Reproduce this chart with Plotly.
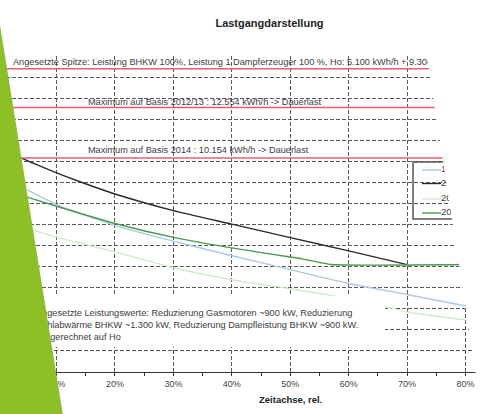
import plotly.graph_objects as go

# ---------------- data ----------------
title_text = "Lastgangdarstellung"
x_axis_title = "Zeitachse, rel."
tick_values = [0.1, 0.2, 0.3, 0.4, 0.5, 0.6, 0.7, 0.8]
tick_labels = ["10%", "20%", "30%", "40%", "50%", "60%", "70%", "80%"]

series_names = ["12/13", "2014", "2013", "2015"]

blue_x = [0.05, 0.10, 0.20, 0.30, 0.40, 0.50, 0.60, 0.70, 0.80]
blue_y = [8640, 7950, 6950, 6210, 5520, 4860, 4200, 3680, 3130]

black_x = [0.04, 0.06, 0.10, 0.14, 0.20, 0.30, 0.40, 0.50, 0.60, 0.70]
black_y = [10154, 9910, 9450, 9030, 8450, 7660, 7020, 6380, 5750, 5100]

faint_x = [0.06, 0.10, 0.20, 0.30, 0.40, 0.50, 0.62, 0.70, 0.80]
faint_y = [6740, 6400, 5700, 4950, 4380, 3950, 3400, 2850, 2470]

green_x = [0.05, 0.10, 0.20, 0.30, 0.40, 0.50, 0.52, 0.55, 0.57, 0.80]
green_y = [8300, 7870, 7050, 6390, 5890, 5460, 5370, 5200, 5100, 5100]

ref_levels = [14400, 12554, 10154]
ref_labels = [
    "Angesetzte Spitze: Leistung BHKW 100%, Leistung 1 Dampferzeuger 100 %, Ho: 5.100 kWh/h + 9.300 kWh/h",
    "Maximum auf Basis 2012/13 : 12.554 kWh/h -> Dauerlast",
    "Maximum auf Basis 2014 : 10.154 kWh/h -> Dauerlast",
]
note_text = ("Angesetzte Leistungswerte: Reduzierung Gasmotoren ~900 kW, Reduzierung<br>"
             "Kühlabwärme BHKW ~1.300 kW, Reduzierung Dampfleistung BHKW ~900 kW.<br>"
             "Umgerechnet auf Ho")

# ---------------- layout geometry ----------------
W, H = 484, 414
PT, PB = 56, 372           # plot top / bottom in px
X0, X1 = 0.0032, 0.8316    # x range
Y0, Y1 = 0, 15000


def dx(px):
    return 0.2 + (px - 115) / 584.2


def dy(py):
    return (PB - py) * (Y1 - Y0) / (PB - PT)


def paper_x(px):
    return px / W


def paper_y(py):
    return (PB - py) / (PB - PT)


FONT = "Arial, Liberation Sans, sans-serif"
colors = ["#a9c8ea", "#2b2b2b", "#d3eccc", "#4a9a50"]
series = [(blue_x, blue_y), (black_x, black_y), (faint_x, faint_y), (green_x, green_y)]

fig = go.Figure()

for (xs, ys), c, n in zip(series, colors, series_names):
    fig.add_trace(go.Scatter(x=xs, y=ys, mode="lines", name=n,
                             line=dict(color=c, width=1.4, shape="spline", smoothing=0.6),
                             showlegend=False))

for lvl in ref_levels:
    fig.add_trace(go.Scatter(x=[X0, X1], y=[lvl, lvl], mode="lines",
                             line=dict(color="#e4606c", width=1.5),
                             showlegend=False, hoverinfo="skip"))

# white background for the note box
bx0, bx1, by0, by1 = dx(20), dx(385), dy(347), dy(296)
fig.add_trace(go.Scatter(x=[bx0, bx1, bx1, bx0, bx0], y=[by0, by0, by1, by1, by0],
                         mode="lines", fill="toself", fillcolor="white",
                         line=dict(width=0, color="white"), showlegend=False,
                         hoverinfo="skip"))

# in-plot texts
fig.add_trace(go.Scatter(
    x=[dx(13), dx(88), dx(88), dx(36)],
    y=[dy(63), dy(103), dy(151), dy(325.5)],
    text=ref_labels + [note_text],
    mode="text", textposition="middle right",
    textfont=dict(family=FONT, size=9.2, color="#3c3c3c"),
    showlegend=False, hoverinfo="skip"))

# legend texts
leg_y = [170, 183.5, 199, 213]
fig.add_trace(go.Scatter(
    x=[dx(441)] * 4, y=[dy(v) for v in leg_y], text=series_names,
    mode="text", textposition="middle right",
    textfont=dict(family=FONT, size=9.5, color="#3c3c3c"),
    showlegend=False, hoverinfo="skip"))

shapes = [
    dict(type="rect", xref="paper", yref="paper", x0=paper_x(413), x1=paper_x(530),
         y0=paper_y(219), y1=paper_y(162), fillcolor="white",
         line=dict(color="#555555", width=1.5), layer="between"),
]
for v, c in zip(leg_y, colors):
    shapes.append(dict(type="line", xref="paper", yref="paper",
                       x0=paper_x(422), x1=paper_x(441), y0=paper_y(v), y1=paper_y(v),
                       line=dict(color=c, width=1.4), layer="between"))


def path(points):
    return "M " + " L ".join(f"{paper_x(a):.5f},{paper_y(b):.5f}" for a, b in points) + " Z"


# white slanted crop on the right
shapes.append(dict(type="path", xref="paper", yref="paper",
                   path=path([(416.6, -10), (540, -10), (540, 440), (486.1, 440)]),
                   fillcolor="white", line=dict(width=0), layer="above"))
# green slanted band on the left
shapes.append(dict(type="path", xref="paper", yref="paper",
                   path=path([(-20, 25), (0, 25), (67, 440), (-20, 440)]),
                   fillcolor="#8dbf26", line=dict(width=0), layer="above"))

fig.update_layout(
    width=W, height=H,
    margin=dict(l=0, r=0, t=PT, b=H - PB),
    paper_bgcolor="white", plot_bgcolor="white",
    showlegend=False,
    hovermode=False,
    title=dict(text="<b>" + title_text + "</b>", x=269.5 / W, y=1 - 23 / H,
               xanchor="center", yanchor="middle", xref="container", yref="container",
               font=dict(family=FONT, size=11, color="#222222")),
    xaxis=dict(range=[X0, X1], tickmode="array", tickvals=tick_values, ticktext=tick_labels,
               showgrid=True, gridcolor="#5a5a5a", gridwidth=1, griddash="4px,2px",
               showline=True, linecolor="#333333", linewidth=1,
               ticks="outside", ticklen=3, tickcolor="#333333",
               minor=dict(tickmode="linear", tick0=0, dtick=0.05, ticks="outside",
                          ticklen=3, tickcolor="#333333", showgrid=False),
               tickfont=dict(family=FONT, size=9, color="#444444"),
               zeroline=False, automargin=False, fixedrange=True),
    yaxis=dict(range=[Y0, Y1], tickmode="linear", tick0=0, dtick=1000,
               showgrid=True, gridcolor="#5a5a5a", gridwidth=1, griddash="4px,2px",
               showticklabels=False, showline=False, zeroline=False,
               automargin=False, fixedrange=True),
    shapes=shapes,
    annotations=[dict(text="<b>" + x_axis_title + "</b>", x=0.5, xref="x",
                      y=paper_y(399), yref="paper", showarrow=False,
                      xanchor="center", yanchor="middle",
                      font=dict(family=FONT, size=9.5, color="#222222"))],
)

fig.write_html("out.html",
               config={"displayModeBar": False, "staticPlot": True},
               post_script="document.body.style.margin='0';document.body.style.padding='0';")
